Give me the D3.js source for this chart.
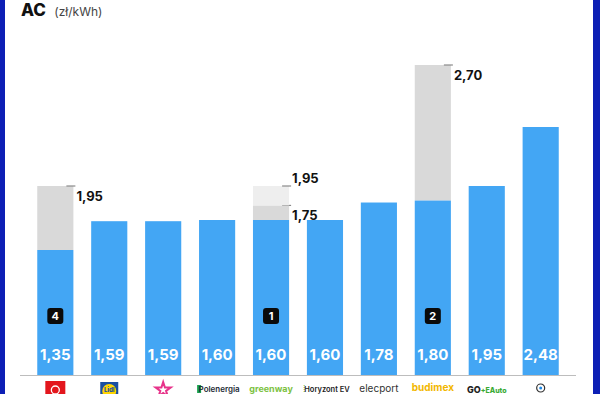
<!DOCTYPE html>
<html>
<head>
<meta charset="utf-8">
<script src="https://cdn.jsdelivr.net/npm/d3@7"></script>
<style>
  body { margin: 0; background: #fff; }
  svg { display: block; }
</style>
</head>
<body>
<div id="canva"></div>
<script>
const width = 600;
const height = 394;
const baseY = 375;

// data
const operators = ['Orlen', 'Lidl', 'Pink', 'Polenergia', 'greenway', 'Horyzont EV', 'elecport', 'budimex', 'GO+EAuto', 'Tauron'];
const prices = [1.35, 1.59, 1.59, 1.60, 1.60, 1.60, 1.78, 1.80, 1.95, 2.48];
const upperPrices = [[1.95], [], [], [], [1.75, 1.95], [], [], [2.70], [], []];
const badges = ['4', '', '', '', '1', '', '', '2', '', ''];
const priceLabels = ['1,35', '1,59', '1,59', '1,60', '1,60', '1,60', '1,78', '1,80', '1,95', '2,48'];

const fmt = v => v.toFixed(2).replace('.', ',');

const svg = d3.select('#canva')
              .append('svg')
              .attr('width', width)
              .attr('height', height);

// frame
svg.append('rect').attr('x', 0).attr('y', 0).attr('width', 5).attr('height', height).style('fill', '#0d1fb5');
svg.append('rect').attr('x', 593).attr('y', 0).attr('width', 7).attr('height', height).style('fill', '#0d1fb5');

// title
const title = svg.append('text')
                 .attr('x', 21)
                 .attr('y', 16)
                 .style('font-family', 'Inter, sans-serif');
title.append('tspan').text('AC').style('font-size', '17px').style('font-weight', 800).style('fill', '#111');
title.append('tspan').text(' (zł/kWh)').attr('dx', 5).style('font-size', '12px').style('fill', '#444');

const xScale = d3.scaleBand()
                 .domain(operators)
                 .range([20, 576])
                 .paddingInner(0.33)
                 .paddingOuter(0.32);

// the picture is not drawn to one linear scale, so the scale is piecewise
const yScale = d3.scaleLinear()
                 .domain([0, 1.35, 1.60, 1.95, 2.48, 2.70])
                 .range([baseY, 250, 220, 186, 127, 65]);

const bw = xScale.bandwidth();

// grey segments above bars
const greyColors = ['#d9d9d9', '#eeeeee'];
operators.forEach((op, i) => {
    let prev = prices[i];
    upperPrices[i].forEach((v, j) => {
        const x = xScale(op);
        svg.append('rect')
           .attr('x', x)
           .attr('y', yScale(v))
           .attr('width', bw)
           .attr('height', yScale(prev) - yScale(v))
           .style('fill', greyColors[j]);
        svg.append('line')
           .attr('x1', x + bw - 7)
           .attr('x2', x + bw + 2)
           .attr('y1', yScale(v))
           .attr('y2', yScale(v))
           .style('stroke', '#8a8a8a')
           .style('stroke-width', 1.2);
        // upper label of a two step bar sits above its line
        const above = upperPrices[i].length > 1 && j === upperPrices[i].length - 1;
        svg.append('text')
           .attr('x', x + bw + 3)
           .attr('y', yScale(v) + (above ? -3 : 15))
           .text(fmt(v))
           .style('font-family', 'Inter, sans-serif')
           .style('font-weight', 700)
           .style('font-size', '13px')
           .style('fill', '#111');
        prev = v;
    });
});

// bars
svg.selectAll('rect.bar')
   .data(prices)
   .enter()
   .append('rect')
   .attr('class', 'bar')
   .attr('x', (d, i) => xScale(operators[i]))
   .attr('y', d => yScale(d))
   .attr('width', bw)
   .attr('height', d => baseY - yScale(d))
   .style('fill', '#43a6f4');

// values inside bars
svg.selectAll('text.val')
   .data(priceLabels)
   .enter()
   .append('text')
   .attr('class', 'val')
   .attr('x', (d, i) => xScale(operators[i]) + bw / 2)
   .attr('y', 360)
   .attr('text-anchor', 'middle')
   .text(d => d)
   .style('font-family', 'Inter, sans-serif')
   .style('font-weight', 700)
   .style('font-size', '15px')
   .style('fill', '#fff');

// ranking badges
operators.forEach((op, i) => {
    if (!badges[i]) return;
    const cx = xScale(op) + bw / 2;
    svg.append('rect')
       .attr('x', cx - 8)
       .attr('y', 308)
       .attr('width', 16)
       .attr('height', 16)
       .attr('rx', 3)
       .style('fill', '#0a0a0a');
    svg.append('text')
       .attr('x', cx)
       .attr('y', 320)
       .attr('text-anchor', 'middle')
       .text(badges[i])
       .style('font-family', 'Inter, sans-serif')
       .style('font-weight', 700)
       .style('font-size', '11px')
       .style('fill', '#fff');
});

// baseline
svg.append('line')
   .attr('x1', 20).attr('x2', 576)
   .attr('y1', baseY + 0.5).attr('y2', baseY + 0.5)
   .style('stroke', '#bdbdbd')
   .style('stroke-width', 1);

// logos under bars, roughly drawn
const logo = svg.append('g').style('font-family', 'Inter, sans-serif');
operators.forEach((op, i) => {
    const cx = xScale(op) + bw / 2;
    const g = logo.append('g').attr('transform', 'translate(' + cx + ',0)');
    switch (op) {
        case 'Orlen':
            g.append('rect').attr('x', -10).attr('y', 381).attr('width', 20).attr('height', 16).style('fill', '#e3161d');
            g.append('circle').attr('cx', 0).attr('cy', 390).attr('r', 4).style('fill', 'none').style('stroke', '#fff').style('stroke-width', 1.3);
            break;
        case 'Lidl':
            g.append('rect').attr('x', -9).attr('y', 382).attr('width', 18).attr('height', 15).style('fill', '#1a4fa0');
            g.append('circle').attr('cx', 0).attr('cy', 391).attr('r', 7).style('fill', '#ffd500');
            g.append('text').attr('y', 392).attr('text-anchor', 'middle').text('Lidl').style('font-size', '6px').style('font-weight', 800).style('fill', '#1a4fa0');
            break;
        case 'Pink':
            g.append('path').attr('d', d3.symbol(d3.symbolStar, 70)()).attr('transform', 'translate(0,390)')
             .style('fill', 'none').style('stroke', '#e7338a').style('stroke-width', 2);
            break;
        case 'Polenergia':
            g.append('rect').attr('x', -20).attr('y', 385).attr('width', 4).attr('height', 8).style('fill', '#1aa14f');
            g.append('text').attr('x', 2).attr('y', 392).attr('text-anchor', 'middle').text('Polenergia').style('font-size', '8px').style('font-weight', 600).style('fill', '#1d2b36');
            break;
        case 'greenway':
            g.append('text').attr('y', 392).attr('text-anchor', 'middle').text('greenway').style('font-size', '9px').style('font-weight', 700).style('fill', '#7cc242');
            break;
        case 'Horyzont EV':
            g.append('text').attr('x', -22).attr('y', 392).text('⁞').style('font-size', '9px').style('fill', '#6bb33f');
            g.append('text').attr('x', 2).attr('y', 392).attr('text-anchor', 'middle').text('Horyzont EV').style('font-size', '7.5px').style('font-weight', 600).style('fill', '#222');
            break;
        case 'elecport':
            g.append('text').attr('y', 392).attr('text-anchor', 'middle').text('elecport').style('font-size', '10px').style('fill', '#333');
            break;
        case 'budimex':
            g.append('text').attr('y', 391).attr('text-anchor', 'middle').text('budimex').style('font-size', '10px').style('font-weight', 700).style('fill', '#f2b700');
            break;
        case 'GO+EAuto':
            const t = g.append('text').attr('y', 393).attr('text-anchor', 'middle').style('font-size', '7px').style('font-weight', 800);
            t.append('tspan').text('GO').style('fill', '#222').style('font-size', '9px');
            t.append('tspan').text('+EAuto').style('fill', '#3aaa35');
            break;
        case 'Tauron':
            g.append('circle').attr('cx', 0).attr('cy', 388).attr('r', 4).style('fill', 'none').style('stroke', '#333').style('stroke-width', 1.2);
            g.append('circle').attr('cx', 0).attr('cy', 388).attr('r', 1.5).style('fill', '#1e88e5');
            break;
    }
});
</script>
</body>
</html>
